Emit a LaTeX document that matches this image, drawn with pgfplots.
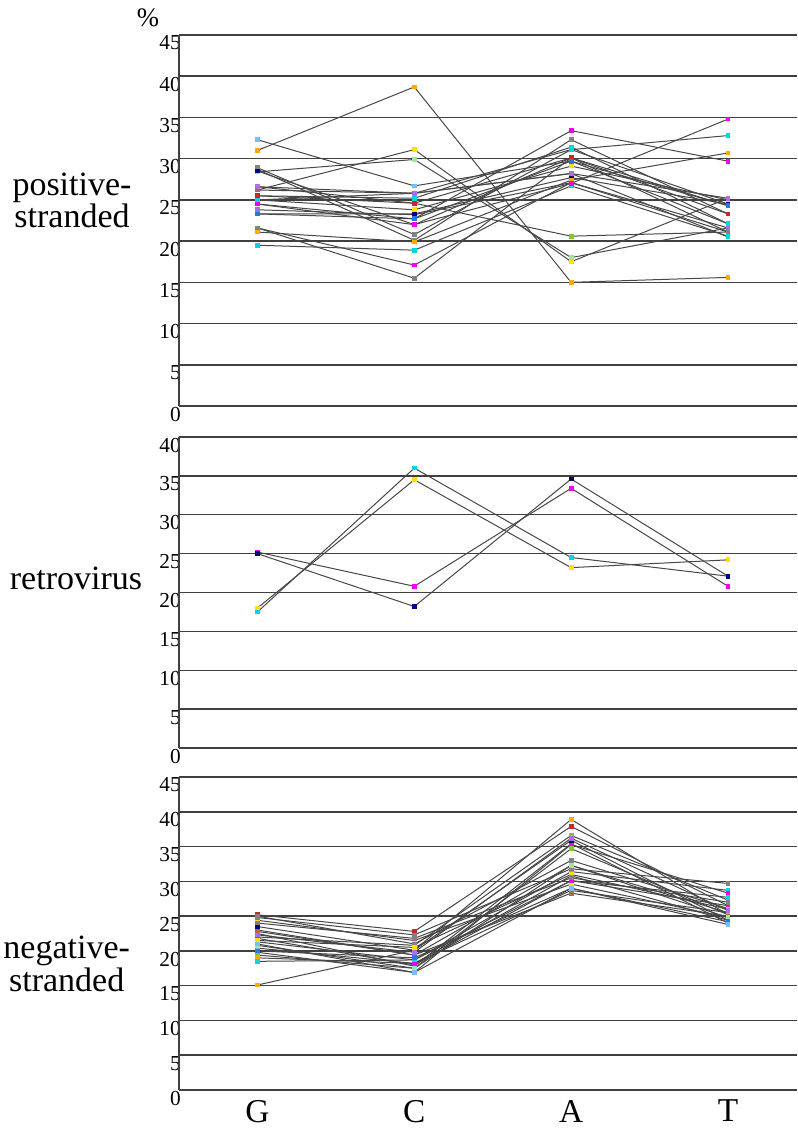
\documentclass[border=0pt]{standalone}
\usepackage{pgfplots}
\pgfplotsset{compat=1.18}
\usepackage{fontspec}
\setmainfont{Liberation Serif}
\definecolor{oM}{RGB}{255,170,0}
\definecolor{yM}{RGB}{255,225,0}
\definecolor{cM}{RGB}{0,215,225}
\definecolor{lbM}{RGB}{120,190,255}
\definecolor{mM}{RGB}{240,0,240}
\definecolor{nM}{RGB}{0,0,130}
\definecolor{pM}{RGB}{170,110,230}
\definecolor{gM}{RGB}{130,200,40}
\definecolor{rM}{RGB}{200,40,40}
\definecolor{bM}{RGB}{170,110,60}
\definecolor{grM}{RGB}{130,130,130}
\definecolor{lgM}{RGB}{160,230,160}
\definecolor{blM}{RGB}{40,120,220}
\definecolor{drM}{RGB}{130,0,40}
\pgfplotsset{
  panel/.style={
    scale only axis, width=463.5pt,
    xmin=-0.5, xmax=3.44,
    axis lines*=left,
    axis line style={draw=none},
    tick style={draw=none},
    ymajorgrids, grid style={black!75, line width=1.1pt},
    ymin=0,
    /pgf/number format/assume math mode=true,
    yticklabel style={font=\fontsize{16}{16}\selectfont, anchor=north east, inner sep=0pt, xshift=1.5pt, yshift=-0.5pt},
    xtick=\empty,
    clip=false,
    every axis plot/.append style={black!72, line width=0.75pt, mark=square*, mark size=1.4pt},
  },
}
\newcommand{\ser}[2]{\addplot[mark options={solid, fill=#1, draw=#1}] coordinates {#2};}
\newcommand{\yaxisline}[1]{\draw[black!75, line width=1.2pt] (axis cs:-0.5,0) -- (axis cs:-0.5,#1);}
\begin{document}
\begin{tikzpicture}
\path[use as bounding box] (0,0) rectangle (597.75pt,-852pt);
% ---------- positive-stranded ----------
\begin{axis}[panel, at={(134.25pt,-26.25pt)}, anchor=north west, height=278.25pt, ymax=45, ytick={0,5,...,45}]
\yaxisline{45}
\ser{oM}{(0,31.0)(1,38.7)(2,15.0)(3,15.6)}
\ser{lbM}{(0,32.3)(1,26.7)(2,29.7)(3,22.1)}
\ser{yM}{(0,26.2)(1,31.1)(2,17.5)(3,25.2)}
\ser{lgM}{(0,28.4)(1,29.9)(2,18.0)(3,21.6)}
\ser{grM}{(0,28.9)(1,20.8)(2,31.1)(3,24.5)}
\ser{grM}{(0,28.7)(1,20.1)(2,32.3)(3,23.3)}
\ser{nM}{(0,28.5)(1,22.0)(2,30.1)(3,24.3)}
\ser{gM}{(0,26.6)(1,24.6)(2,20.6)(3,21.1)}
\ser{bM}{(0,26.2)(1,25.8)(2,28.2)(3,20.5)}
\ser{cM}{(0,25.5)(1,25.2)(2,31.4)(3,22.1)}
\ser{yM}{(0,25.0)(1,23.8)(2,29.1)(3,25.0)}
\ser{mM}{(0,24.5)(1,22.7)(2,33.4)(3,29.7)}
\ser{pM}{(0,23.8)(1,23.2)(2,27.1)(3,21.6)}
\ser{nM}{(0,23.3)(1,23.3)(2,27.7)(3,24.5)}
\ser{mM}{(0,21.6)(1,17.1)(2,27.1)(3,21.1)}
\ser{oM}{(0,21.1)(1,19.9)(2,27.4)(3,30.7)}
\ser{cM}{(0,19.5)(1,18.9)(2,26.7)(3,20.6)}
\ser{grM}{(0,21.6)(1,15.5)(2,30.1)(3,21.1)}
\ser{cM}{(0,25.0)(1,25.8)(2,31.1)(3,32.8)}
\ser{mM}{(0,24.5)(1,22.0)(2,27.0)(3,34.8)}
\ser{rM}{(0,25.5)(1,24.6)(2,30.1)(3,23.3)}
\ser{pM}{(0,26.6)(1,25.8)(2,28.2)(3,25.2)}
\ser{blM}{(0,23.3)(1,22.7)(2,29.7)(3,24.3)}
\end{axis}
% ---------- retrovirus ----------
\begin{axis}[panel, at={(134.25pt,-327.75pt)}, anchor=north west, height=233.25pt, ymax=40, ytick={0,5,...,40}]
\yaxisline{40}
\ser{cM}{(0,17.5)(1,36.0)(2,24.5)(3,22.1)}
\ser{yM}{(0,18.0)(1,34.5)(2,23.2)(3,24.2)}
\ser{mM}{(0,25.2)(1,20.8)(2,33.4)(3,20.8)}
\ser{nM}{(0,25.0)(1,18.2)(2,34.6)(3,22.1)}
\end{axis}
% ---------- negative-stranded ----------
\begin{axis}[panel, at={(134.25pt,-582.75pt)}, anchor=north west, height=234.75pt, ymax=45, ytick={0,5,...,45},
  xtick={0,1,2,3}, xticklabels={G,C,A,T},
  xticklabel style={font=\fontsize{25}{25}\selectfont, yshift=-4pt}]
\yaxisline{45}
\ser{oM}{(0,15.1)(1,20.1)(2,38.9)(3,25.2)}
\ser{rM}{(0,25.2)(1,22.8)(2,37.9)(3,26.5)}
\ser{yM}{(0,24.4)(1,21.5)(2,29.6)(3,24.8)}
\ser{drM}{(0,23.0)(1,19.4)(2,32.3)(3,25.5)}
\ser{blM}{(0,22.5)(1,17.8)(2,35.4)(3,24.0)}
\ser{gM}{(0,22.0)(1,20.8)(2,36.6)(3,27.3)}
\ser{cM}{(0,21.3)(1,18.7)(2,31.4)(3,28.7)}
\ser{lbM}{(0,20.4)(1,18.2)(2,30.8)(3,24.4)}
\ser{mM}{(0,19.8)(1,16.9)(2,35.3)(3,28.3)}
\ser{gM}{(0,19.4)(1,17.5)(2,34.7)(3,25.2)}
\ser{oM}{(0,19.0)(1,18.2)(2,28.7)(3,25.5)}
\ser{cM}{(0,18.5)(1,18.7)(2,30.1)(3,27.7)}
\ser{grM}{(0,25.0)(1,21.0)(2,33.0)(3,26.1)}
\ser{grM}{(0,24.8)(1,22.3)(2,31.8)(3,29.7)}
\ser{nM}{(0,23.5)(1,20.1)(2,35.9)(3,24.4)}
\ser{bM}{(0,22.8)(1,19.4)(2,28.3)(3,25.0)}
\ser{mM}{(0,21.8)(1,18.0)(2,30.1)(3,26.5)}
\ser{lgM}{(0,20.8)(1,17.5)(2,32.3)(3,24.8)}
\ser{yM}{(0,21.5)(1,20.5)(2,31.0)(3,26.0)}
\ser{blM}{(0,20.0)(1,19.0)(2,29.0)(3,24.2)}
\ser{grM}{(0,24.0)(1,21.8)(2,30.5)(3,27.0)}
\ser{pM}{(0,22.3)(1,19.8)(2,36.2)(3,25.8)}
\ser{lbM}{(0,21.0)(1,16.9)(2,29.0)(3,23.8)}
\end{axis}
% ---------- labels ----------
\node[font=\fontsize{20}{20}\selectfont] at (111pt,-13pt) {\%};
\node[font=\fontsize{25.5}{23}\selectfont, align=center] at (54pt,-150pt) {positive-\\stranded};
\node[font=\fontsize{25.5}{23}\selectfont, align=center] at (57pt,-433.5pt) {retrovirus};
\node[font=\fontsize{25.5}{23}\selectfont, align=center] at (50pt,-723pt) {negative-\\stranded};
\end{tikzpicture}
\end{document}
